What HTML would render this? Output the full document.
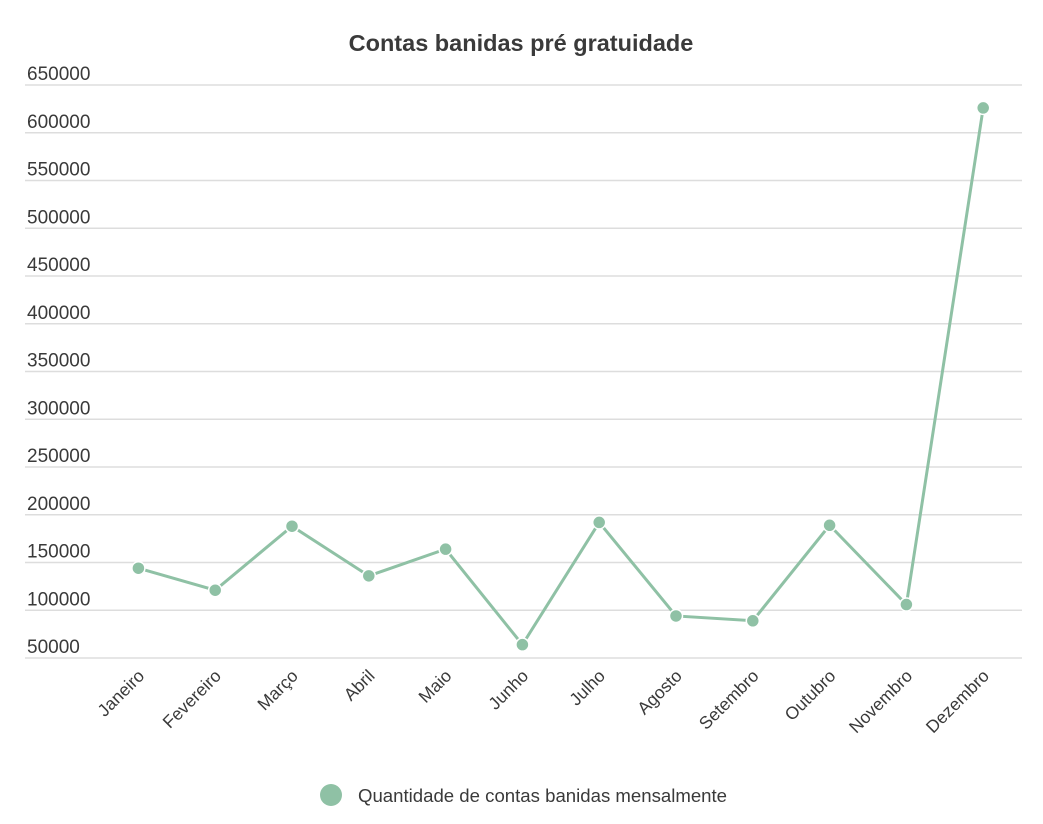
<!DOCTYPE html>
<html><head><meta charset="utf-8"><style>
body{margin:0;background:#fff;font-family:"Liberation Sans",sans-serif;}
svg text{font-family:"Liberation Sans",sans-serif;fill:#3a3a3a;}
</style></head><body>
<svg id="chart" width="1043" height="819" xmlns="http://www.w3.org/2000/svg">
<text x="521" y="51" text-anchor="middle" font-size="23.5" font-weight="bold" fill="#333">Contas banidas pré gratuidade</text>
<g id="grid"></g><g id="xlabels"></g><g id="series"></g>
<g>
<circle cx="331" cy="795" r="11" fill="#8fc1a5"/>
<text x="358" y="802" font-size="18.6">Quantidade de contas banidas mensalmente</text>
</g>
</svg>
<script>
const categories=["Janeiro","Fevereiro","Março","Abril","Maio","Junho","Julho","Agosto","Setembro","Outubro","Novembro","Dezembro"];
const values=[144000,121000,188000,136000,164000,64000,192000,94000,89000,189000,106000,626000];
const ticks=[50000,100000,150000,200000,250000,300000,350000,400000,450000,500000,550000,600000,650000];
const NS="http://www.w3.org/2000/svg";
function y(v){return 658-(v-50000)/50000*47.75;}
function x(i){return 100+76.8*(i+0.5);}
const grid=document.getElementById('grid');
ticks.forEach(t=>{
 const l=document.createElementNS(NS,'line');
 l.setAttribute('x1',25);l.setAttribute('x2',1022);l.setAttribute('y1',y(t));l.setAttribute('y2',y(t));
 l.setAttribute('stroke','#ddd');l.setAttribute('stroke-width','1.5');
 
 
 grid.appendChild(l);
 const tx=document.createElementNS(NS,'text');
 tx.setAttribute('x',27);tx.setAttribute('y',y(t)-5);tx.setAttribute('font-size','19');
 tx.textContent=t;
 
 
 grid.appendChild(tx);
});
const xl=document.getElementById('xlabels');
categories.forEach((c,i)=>{
 const tx=document.createElementNS(NS,'text');
 const px=x(i)+7,py=677;
 tx.setAttribute('x',px);tx.setAttribute('y',py);tx.setAttribute('font-size','17.5');
 tx.setAttribute('text-anchor','end');
 tx.setAttribute('transform','rotate(-45 '+px+' '+py+')');
 tx.textContent=c;
 
 
 xl.appendChild(tx);
});
const s=document.getElementById('series');
const pl=document.createElementNS(NS,'polyline');
pl.setAttribute('points',values.map((v,i)=>x(i)+','+y(v)).join(' '));
pl.setAttribute('fill','none');pl.setAttribute('stroke','#8fc1a5');pl.setAttribute('stroke-width','3');


s.appendChild(pl);
values.forEach((v,i)=>{
 const c=document.createElementNS(NS,'circle');
 c.setAttribute('cx',x(i));c.setAttribute('cy',y(v));c.setAttribute('r','6.5');
 c.setAttribute('fill','#8fc1a5');c.setAttribute('stroke','#fff');c.setAttribute('stroke-width','1.5');
 
 
 s.appendChild(c);
});
</script>
</body></html>
